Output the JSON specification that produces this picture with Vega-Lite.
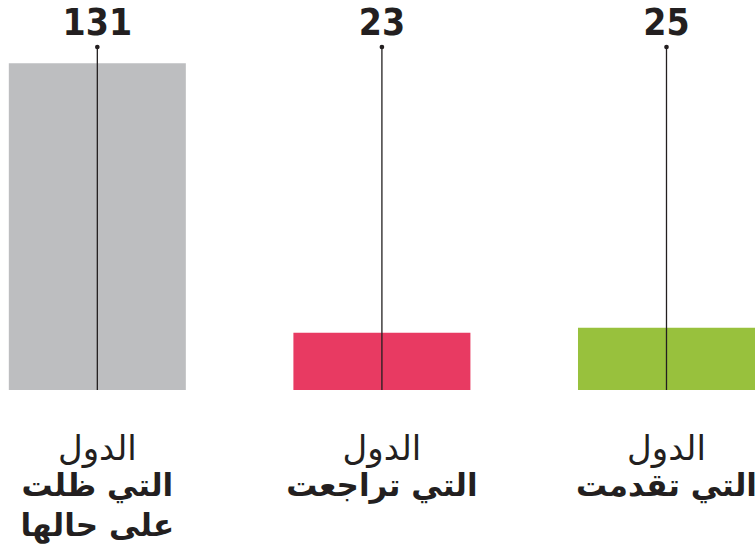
{
  "$schema": "https://vega.github.io/schema/vega-lite/v6.json",
  "autosize": "none",
  "width": 755,
  "height": 343,
  "padding": {"left": 0, "right": 0, "top": 47, "bottom": 161},
  "background": "white",
  "config": {"view": {"stroke": null}},
  "data": {
    "values": [
      {"cat": "same", "value": 131, "label1": "الدول", "label2": ["التي ظلت", "على حالها"]},
      {"cat": "down", "value": 23, "label1": "الدول", "label2": ["التي تراجعت"]},
      {"cat": "up", "value": 25, "label1": "الدول", "label2": ["التي تقدمت"]}
    ]
  },
  "encoding": {
    "x": {
      "field": "cat", "type": "nominal", "sort": ["same", "down", "up"], "axis": null,
      "scale": {"paddingInner": 0.378, "paddingOuter": 0.0155, "align": 1}
    }
  },
  "layer": [
    {
      "mark": {"type": "bar"},
      "encoding": {
        "y": {"field": "value", "type": "quantitative", "axis": null, "scale": {"domain": [0, 137.5], "nice": false, "zero": true}},
        "color": {"field": "cat", "type": "nominal", "legend": null,
          "scale": {"domain": ["same", "down", "up"], "range": ["#BDBEC0", "#E83A62", "#98C13D"]}}
      }
    },
    {
      "mark": {"type": "rule", "color": "#231F20", "strokeWidth": 1.3},
      "encoding": {"y": {"datum": 137.5}, "y2": {"datum": 0}}
    },
    {
      "mark": {"type": "point", "filled": true, "color": "#231F20", "size": 22, "opacity": 1},
      "encoding": {"y": {"datum": 137.5}}
    },
    {
      "mark": {"type": "text", "font": "DejaVu Sans Condensed", "fontWeight": "bold", "fontSize": 37, "color": "#231F20", "baseline": "alphabetic", "dy": -12},
      "encoding": {"y": {"datum": 137.5}, "text": {"field": "value", "type": "quantitative"}}
    },
    {
      "mark": {"type": "text", "font": "DejaVu Sans", "fontSize": 34, "color": "#231F20", "baseline": "alphabetic", "dy": 70},
      "encoding": {"y": {"datum": 0}, "text": {"field": "label1"}}
    },
    {
      "mark": {"type": "text", "font": "DejaVu Sans", "fontWeight": "bold", "fontSize": 31, "color": "#231F20", "baseline": "alphabetic", "dy": 106, "lineHeight": 40},
      "encoding": {"y": {"datum": 0}, "text": {"field": "label2"}}
    }
  ]
}
